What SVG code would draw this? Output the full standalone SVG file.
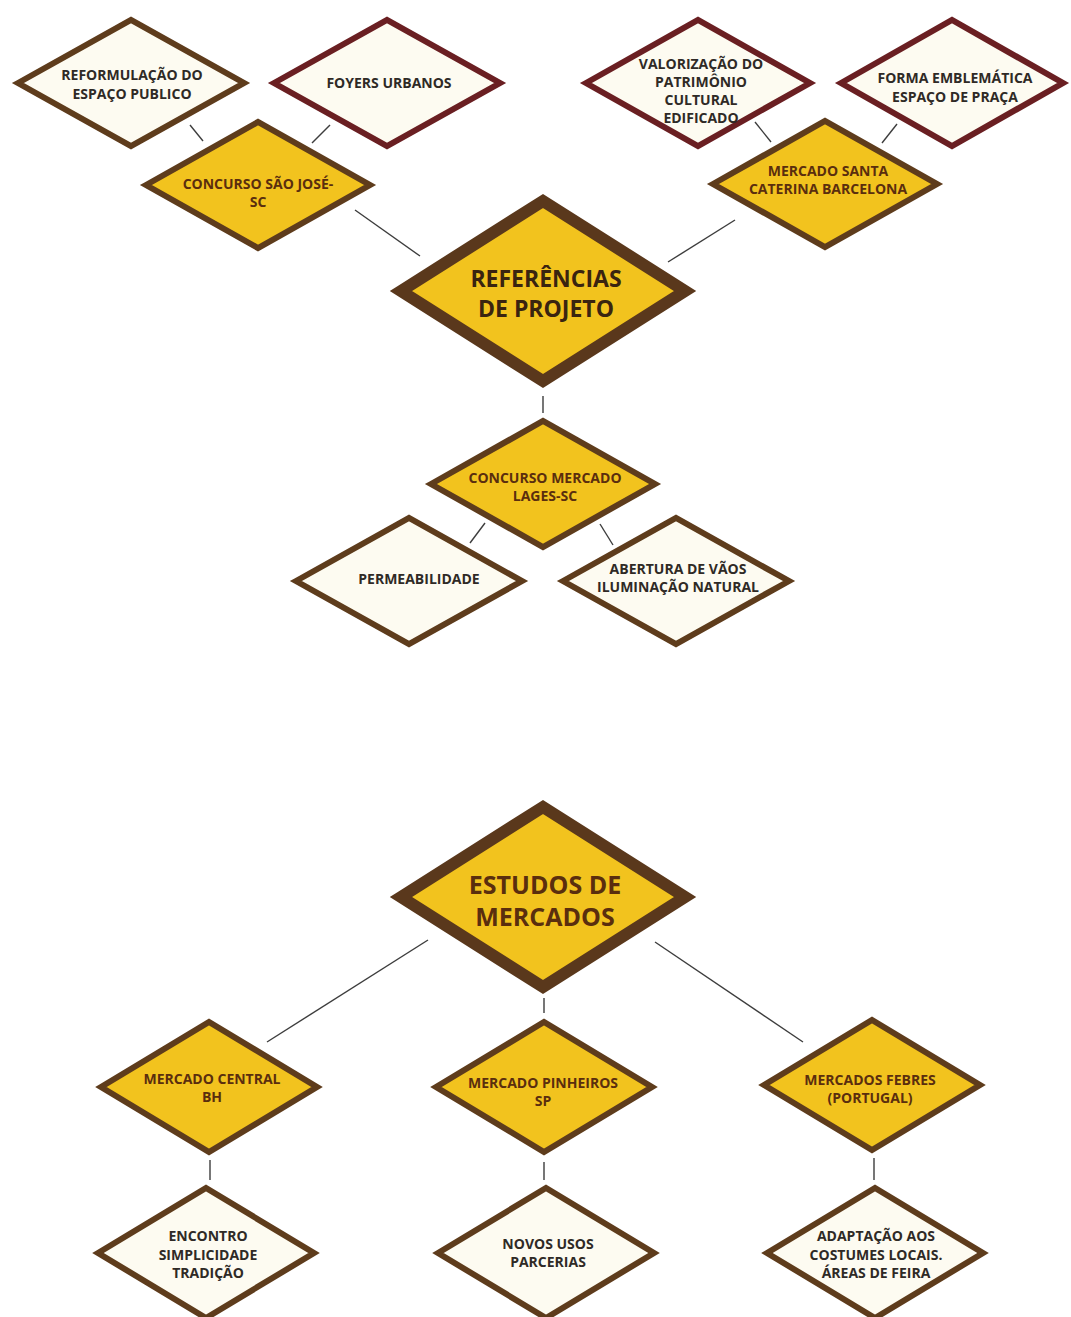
<svg xmlns="http://www.w3.org/2000/svg" width="1071" height="1317" viewBox="0 0 1071 1317">
<style>
.bg{fill:#ffffff}
.cream{fill:#fdfbf1;stroke:#5e3c1c;stroke-width:6;stroke-linejoin:miter;stroke-miterlimit:10}
.crm{fill:#fdfbf1;stroke:#6a1f22;stroke-width:6;stroke-linejoin:miter;stroke-miterlimit:10}
.yel{fill:#f2c31e;stroke:#5e3c1c;stroke-width:6;stroke-linejoin:miter;stroke-miterlimit:10}
.big{fill:#f2c31e;stroke:#5a381c;stroke-width:12;stroke-linejoin:miter;stroke-miterlimit:10}
.t{font-family:"Open Sans",Lato,"Liberation Sans",sans-serif;font-weight:700;font-size:14px;text-anchor:middle;fill:#2f2a26}
.ty{font-family:"Open Sans",Lato,"Liberation Sans",sans-serif;font-weight:700;font-size:14px;text-anchor:middle;fill:#5a2e0e}
.tb{font-family:"Open Sans",Lato,"Liberation Sans",sans-serif;font-weight:700;font-size:23px;text-anchor:middle;fill:#3a2410}
.tb2{font-family:"Open Sans",Lato,"Liberation Sans",sans-serif;font-weight:700;font-size:25px;text-anchor:middle;fill:#5a2e0e}
.c{stroke:#3d3d3d;stroke-width:1.4;fill:none}
</style>
<rect class="bg" x="0" y="0" width="1071" height="1317"/>
<g id="connectors">
<line class="c" x1="190" y1="125" x2="203" y2="141"/>
<line class="c" x1="330" y1="125" x2="312" y2="143"/>
<line class="c" x1="355" y1="210" x2="420" y2="256"/>
<line class="c" x1="735" y1="220" x2="668" y2="262"/>
<line class="c" x1="755" y1="122" x2="771" y2="142"/>
<line class="c" x1="897" y1="124" x2="882" y2="143"/>
<line class="c" x1="543" y1="396" x2="543" y2="413"/>
<line class="c" x1="485" y1="523" x2="470" y2="543"/>
<line class="c" x1="600" y1="524" x2="613" y2="545"/>
<line class="c" x1="428" y1="940" x2="267" y2="1042"/>
<line class="c" x1="655" y1="942" x2="803" y2="1042"/>
<line class="c" x1="544" y1="998" x2="544" y2="1013"/>
<line class="c" x1="210" y1="1160" x2="210" y2="1180"/>
<line class="c" x1="544" y1="1162" x2="544" y2="1180"/>
<line class="c" x1="874" y1="1158" x2="874" y2="1180"/>
</g>
<g id="n-reformulacao">
<polygon class="cream" points="18,83 131,20 244,83 131,146"/>
<text class="t" x="132" y="80">REFORMULAÇÃO DO</text>
<text class="t" x="132" y="99">ESPAÇO PUBLICO</text>
</g>
<g id="n-foyers">
<polygon class="crm" points="274,83 387,20 500,83 387,146"/>
<text class="t" x="389" y="88">FOYERS URBANOS</text>
</g>
<g id="n-saojose">
<polygon class="yel" points="146,185 258,122 370,185 258,248"/>
<text class="ty" x="258" y="189">CONCURSO SÃO JOSÉ-</text>
<text class="ty" x="258" y="207">SC</text>
</g>
<g id="n-valorizacao">
<polygon class="crm" points="586,83 698,20 810,83 698,146"/>
<text class="t" x="701" y="69">VALORIZAÇÃO DO</text>
<text class="t" x="701" y="87">PATRIMÔNIO</text>
<text class="t" x="701" y="105">CULTURAL</text>
<text class="t" x="701" y="123">EDIFICADO</text>
</g>
<g id="n-forma">
<polygon class="crm" points="841,83 952,20 1063,83 952,146"/>
<text class="t" x="955" y="83">FORMA EMBLEMÁTICA</text>
<text class="t" x="955" y="102">ESPAÇO DE PRAÇA</text>
</g>
<g id="n-santacaterina">
<polygon class="yel" points="713,184 825,121 937,184 825,247"/>
<text class="ty" x="828" y="176">MERCADO SANTA</text>
<text class="ty" x="828" y="194">CATERINA BARCELONA</text>
</g>
<g id="n-referencias">
<polygon class="big" points="401,291 543,201 685,291 543,381"/>
<text class="tb" x="546" y="287">REFERÊNCIAS</text>
<text class="tb" x="546" y="317">DE PROJETO</text>
</g>
<g id="n-lages">
<polygon class="yel" points="431,484 543,421 655,484 543,547"/>
<text class="ty" x="545" y="483">CONCURSO MERCADO</text>
<text class="ty" x="545" y="501">LAGES-SC</text>
</g>
<g id="n-permeabilidade">
<polygon class="cream" points="296,581 409,518 522,581 409,644"/>
<text class="t" x="419" y="584">PERMEABILIDADE</text>
</g>
<g id="n-abertura">
<polygon class="cream" points="563,581 676,518 789,581 676,644"/>
<text class="t" x="678" y="574">ABERTURA DE VÃOS</text>
<text class="t" x="678" y="592">ILUMINAÇÃO NATURAL</text>
</g>
<g id="n-estudos">
<polygon class="big" points="401,897 543,807 685,897 543,987"/>
<text class="tb2" x="545" y="894">ESTUDOS DE</text>
<text class="tb2" x="545" y="926">MERCADOS</text>
</g>
<g id="n-central">
<polygon class="yel" points="101,1087 209,1022 317,1087 209,1152"/>
<text class="ty" x="212" y="1084">MERCADO CENTRAL</text>
<text class="ty" x="212" y="1102">BH</text>
</g>
<g id="n-pinheiros">
<polygon class="yel" points="436,1087 544,1022 652,1087 544,1152"/>
<text class="ty" x="543" y="1088">MERCADO PINHEIROS</text>
<text class="ty" x="543" y="1106">SP</text>
</g>
<g id="n-febres">
<polygon class="yel" points="764,1085 872,1020 980,1085 872,1150"/>
<text class="ty" x="870" y="1085">MERCADOS FEBRES</text>
<text class="ty" x="870" y="1103">(PORTUGAL)</text>
</g>
<g id="n-encontro">
<polygon class="cream" points="98,1253 206,1188 314,1253 206,1318"/>
<text class="t" x="208" y="1241">ENCONTRO</text>
<text class="t" x="208" y="1260">SIMPLICIDADE</text>
<text class="t" x="208" y="1278">TRADIÇÃO</text>
</g>
<g id="n-novos">
<polygon class="cream" points="438,1253 546,1188 654,1253 546,1318"/>
<text class="t" x="548" y="1249">NOVOS USOS</text>
<text class="t" x="548" y="1267">PARCERIAS</text>
</g>
<g id="n-adaptacao">
<polygon class="cream" points="767,1253 875,1188 983,1253 875,1318"/>
<text class="t" x="876" y="1241">ADAPTAÇÃO AOS</text>
<text class="t" x="876" y="1260">COSTUMES LOCAIS.</text>
<text class="t" x="876" y="1278">ÁREAS DE FEIRA</text>
</g>
</svg>
